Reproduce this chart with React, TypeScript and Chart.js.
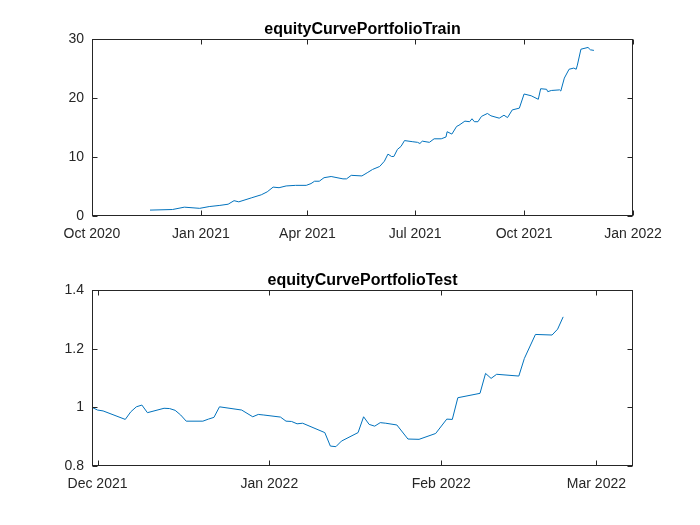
import { useEffect, useRef } from 'react'
import { Chart, registerables } from 'chart.js'

Chart.register(...registerables)

// training curve (dates, values off the y axis)
const trainDates = [
  '2020-11-19', '2020-12-08', '2020-12-18', '2020-12-31', '2021-01-08', '2021-01-17', '2021-01-24', '2021-01-29',
  '2021-02-02', '2021-02-13', '2021-02-21', '2021-02-26', '2021-03-03', '2021-03-08', '2021-03-14', '2021-03-22',
  '2021-03-31', '2021-04-04', '2021-04-07', '2021-04-11', '2021-04-15', '2021-04-21', '2021-05-01', '2021-05-04',
  '2021-05-08', '2021-05-17', '2021-05-22', '2021-05-26', '2021-06-01', '2021-06-05', '2021-06-08', '2021-06-11',
  '2021-06-13', '2021-06-16', '2021-06-19', '2021-06-22', '2021-06-29', '2021-07-03', '2021-07-05', '2021-07-07',
  '2021-07-13', '2021-07-17', '2021-07-23', '2021-07-27', '2021-07-28', '2021-08-01', '2021-08-05', '2021-08-07',
  '2021-08-12', '2021-08-16', '2021-08-18', '2021-08-20', '2021-08-23', '2021-08-26', '2021-08-31', '2021-09-03',
  '2021-09-10', '2021-09-14', '2021-09-17', '2021-09-21', '2021-09-27', '2021-10-01', '2021-10-07', '2021-10-13',
  '2021-10-15', '2021-10-20', '2021-10-21', '2021-10-24', '2021-10-31', '2021-11-01', '2021-11-04', '2021-11-08',
  '2021-11-12', '2021-11-14', '2021-11-15', '2021-11-18', '2021-11-24', '2021-11-26', '2021-11-29',
]
const trainValues = [
  1.0, 1.1, 1.5, 1.3, 1.6, 1.8, 2.0, 2.6,
  2.4, 3.1, 3.6, 4.1, 4.9, 4.8, 5.1, 5.2,
  5.2, 5.5, 5.9, 5.9, 6.5, 6.7, 6.3, 6.3,
  6.9, 6.8, 7.4, 7.9, 8.4, 9.3, 10.5, 10.1,
  10.1, 11.3, 11.8, 12.8, 12.6, 12.5, 12.3, 12.7,
  12.5, 13.1, 13.1, 13.4, 14.3, 13.9, 15.2, 15.4,
  16.1, 16.0, 16.5, 16.0, 16.0, 16.9, 17.4, 17.0,
  16.6, 17.1, 16.7, 18.0, 18.3, 20.7, 20.4, 19.8,
  21.6, 21.5, 21.1, 21.3, 21.4, 21.2, 23.4, 24.9,
  25.1, 24.9, 25.6, 28.3, 28.6, 28.2, 28.1,
]

// test curve
const testDates = [
  '2021-11-30', '2021-12-01', '2021-12-02', '2021-12-06', '2021-12-07', '2021-12-08', '2021-12-09', '2021-12-10',
  '2021-12-13', '2021-12-14', '2021-12-15', '2021-12-16', '2021-12-17', '2021-12-20', '2021-12-21', '2021-12-22',
  '2021-12-23', '2021-12-27', '2021-12-29', '2021-12-30', '2021-12-31', '2022-01-03', '2022-01-04', '2022-01-05',
  '2022-01-06', '2022-01-07', '2022-01-11', '2022-01-12', '2022-01-13', '2022-01-14', '2022-01-17', '2022-01-18',
  '2022-01-19', '2022-01-20', '2022-01-21', '2022-01-22', '2022-01-24', '2022-01-26', '2022-01-28', '2022-01-31',
  '2022-02-02', '2022-02-03', '2022-02-04', '2022-02-08', '2022-02-09', '2022-02-10', '2022-02-11', '2022-02-15',
  '2022-02-16', '2022-02-18', '2022-02-21', '2022-02-22', '2022-02-23',
]
const testValues = [
  1.0, 0.991, 0.988, 0.959, 0.985, 1.002, 1.008, 0.982,
  0.997, 0.996, 0.99, 0.974, 0.953, 0.953, 0.96, 0.966,
  1.002, 0.991, 0.968, 0.976, 0.974, 0.967, 0.953, 0.952,
  0.944, 0.946, 0.914, 0.868, 0.866, 0.885, 0.914, 0.968,
  0.942, 0.936, 0.948, 0.946, 0.94, 0.892, 0.891, 0.911,
  0.96, 0.959, 1.033, 1.048, 1.116, 1.099, 1.113, 1.107,
  1.167, 1.249, 1.247, 1.267, 1.309,
]

const trainTickDates = ['2020-10-01', '2021-01-01', '2021-04-01', '2021-07-01', '2021-10-01', '2022-01-01']
const trainTickLabels = ['Oct 2020', 'Jan 2021', 'Apr 2021', 'Jul 2021', 'Oct 2021', 'Jan 2022']
const trainYTicks = [0, 10, 20, 30]
const trainYLabels = ['0', '10', '20', '30']

const testTickDates = ['2021-12-01', '2022-01-01', '2022-02-01', '2022-03-01']
const testTickLabels = ['Dec 2021', 'Jan 2022', 'Feb 2022', 'Mar 2022']
const testYTicks = [0.8, 1, 1.2, 1.4]
const testYLabels = ['0.8', '1', '1.2', '1.4']

const FONT = "'Liberation Sans', Arial, Helvetica, sans-serif"
const AXIS_COLOR = '#262626'

const dayNum = (s: string) => Date.parse(s + 'T00:00:00Z') / 86400000

// matlab style box with inward ticks on all four sides
const boxPlugin = {
  id: 'matlabBox',
  afterDraw(chart: any) {
    const { ctx, chartArea, scales } = chart
    const left = Math.round(chartArea.left) + 0.5
    const right = Math.round(chartArea.right) - 0.5
    const top = Math.round(chartArea.top) + 0.5
    const bottom = Math.round(chartArea.bottom) - 0.5
    const len = 5
    ctx.save()
    ctx.strokeStyle = AXIS_COLOR
    ctx.lineWidth = 1
    ctx.strokeRect(left, top, right - left, bottom - top)
    ctx.beginPath()
    scales.x.ticks.forEach((t: any) => {
      const px = Math.round(scales.x.getPixelForValue(t.value)) + 0.5
      ctx.moveTo(px, bottom)
      ctx.lineTo(px, bottom - len)
      ctx.moveTo(px, top)
      ctx.lineTo(px, top + len)
    })
    scales.y.ticks.forEach((t: any) => {
      const py = Math.round(scales.y.getPixelForValue(t.value)) + 0.5
      ctx.moveTo(left, py)
      ctx.lineTo(left + len, py)
      ctx.moveTo(right, py)
      ctx.lineTo(right - len, py)
    })
    ctx.stroke()
    ctx.restore()
  },
}

type PanelProps = {
  title: string
  dates: string[]
  values: number[]
  xMin: number
  xMax: number
  xTickDates: string[]
  xTickLabels: string[]
  yMin: number
  yMax: number
  yTicks: number[]
  yLabels: string[]
  height: number
  padBottom: number
}

function Panel(props: PanelProps) {
  const chartRef = useRef<HTMLCanvasElement>(null)
  const chartInstance = useRef<Chart | null>(null)

  useEffect(() => {
    if (!chartRef.current) return
    if (chartInstance.current) chartInstance.current.destroy()

    const points = props.dates.map((d, i) => ({ x: dayNum(d), y: props.values[i] }))
    const tickFont = { family: FONT, size: 14 }

    chartInstance.current = new Chart(chartRef.current, {
      type: 'line',
      data: {
        datasets: [
          {
            data: points,
            borderColor: '#0072BD',
            borderWidth: 1,
            pointRadius: 0,
            tension: 0,
            fill: false,
          },
        ],
      },
      options: {
        animation: false,
        responsive: false,
        layout: { padding: { left: 0, right: 67, top: 20, bottom: props.padBottom } },
        plugins: {
          legend: { display: false },
          tooltip: { enabled: false },
          title: {
            display: true,
            text: props.title,
            fullSize: false,
            color: '#000',
            font: { family: FONT, size: 16, weight: 'bold' },
            padding: { top: 0, bottom: 0 },
          },
        },
        scales: {
          x: {
            type: 'linear',
            min: props.xMin,
            max: props.xMax,
            grid: { display: false, drawTicks: false },
            border: { display: false },
            afterBuildTicks: (s: any) => {
              s.ticks = props.xTickDates.map((d) => ({ value: dayNum(d) }))
            },
            afterFit: (s: any) => {
              s.height = 30
            },
            ticks: {
              autoSkip: false,
              maxRotation: 0,
              padding: 10,
              color: AXIS_COLOR,
              font: tickFont,
              callback: (_v: any, i: number) => props.xTickLabels[i],
            },
          },
          y: {
            min: props.yMin,
            max: props.yMax,
            grid: { display: false, drawTicks: false },
            border: { display: false },
            afterBuildTicks: (s: any) => {
              s.ticks = props.yTicks.map((v) => ({ value: v }))
            },
            afterFit: (s: any) => {
              s.width = 92
            },
            ticks: {
              padding: 8,
              color: AXIS_COLOR,
              font: tickFont,
              callback: (_v: any, i: number) => props.yLabels[i],
            },
          },
        },
      } as any,
      plugins: [boxPlugin],
    })

    return () => {
      if (chartInstance.current) {
        chartInstance.current.destroy()
        chartInstance.current = null
      }
    }
  }, [])

  return <canvas ref={chartRef} width={700} height={props.height} style={{ display: 'block' }} />
}

export default function App() {
  return (
    <div style={{ position: 'absolute', left: 0, top: 0, width: 700, height: 525, background: '#fff' }}>
      <Panel
        title="equityCurvePortfolioTrain"
        dates={trainDates}
        values={trainValues}
        xMin={dayNum('2020-10-01')}
        xMax={dayNum('2022-01-01')}
        xTickDates={trainTickDates}
        xTickLabels={trainTickLabels}
        yMin={0}
        yMax={30}
        yTicks={trainYTicks}
        yLabels={trainYLabels}
        height={251}
        padBottom={5}
      />
      <Panel
        title="equityCurvePortfolioTest"
        dates={testDates}
        values={testValues}
        xMin={dayNum('2021-11-30')}
        xMax={dayNum('2022-03-07') + 0.6}
        xTickDates={testTickDates}
        xTickLabels={testTickLabels}
        yMin={0.8}
        yMax={1.4}
        yTicks={testYTicks}
        yLabels={testYLabels}
        height={274}
        padBottom={29}
      />
    </div>
  )
}
